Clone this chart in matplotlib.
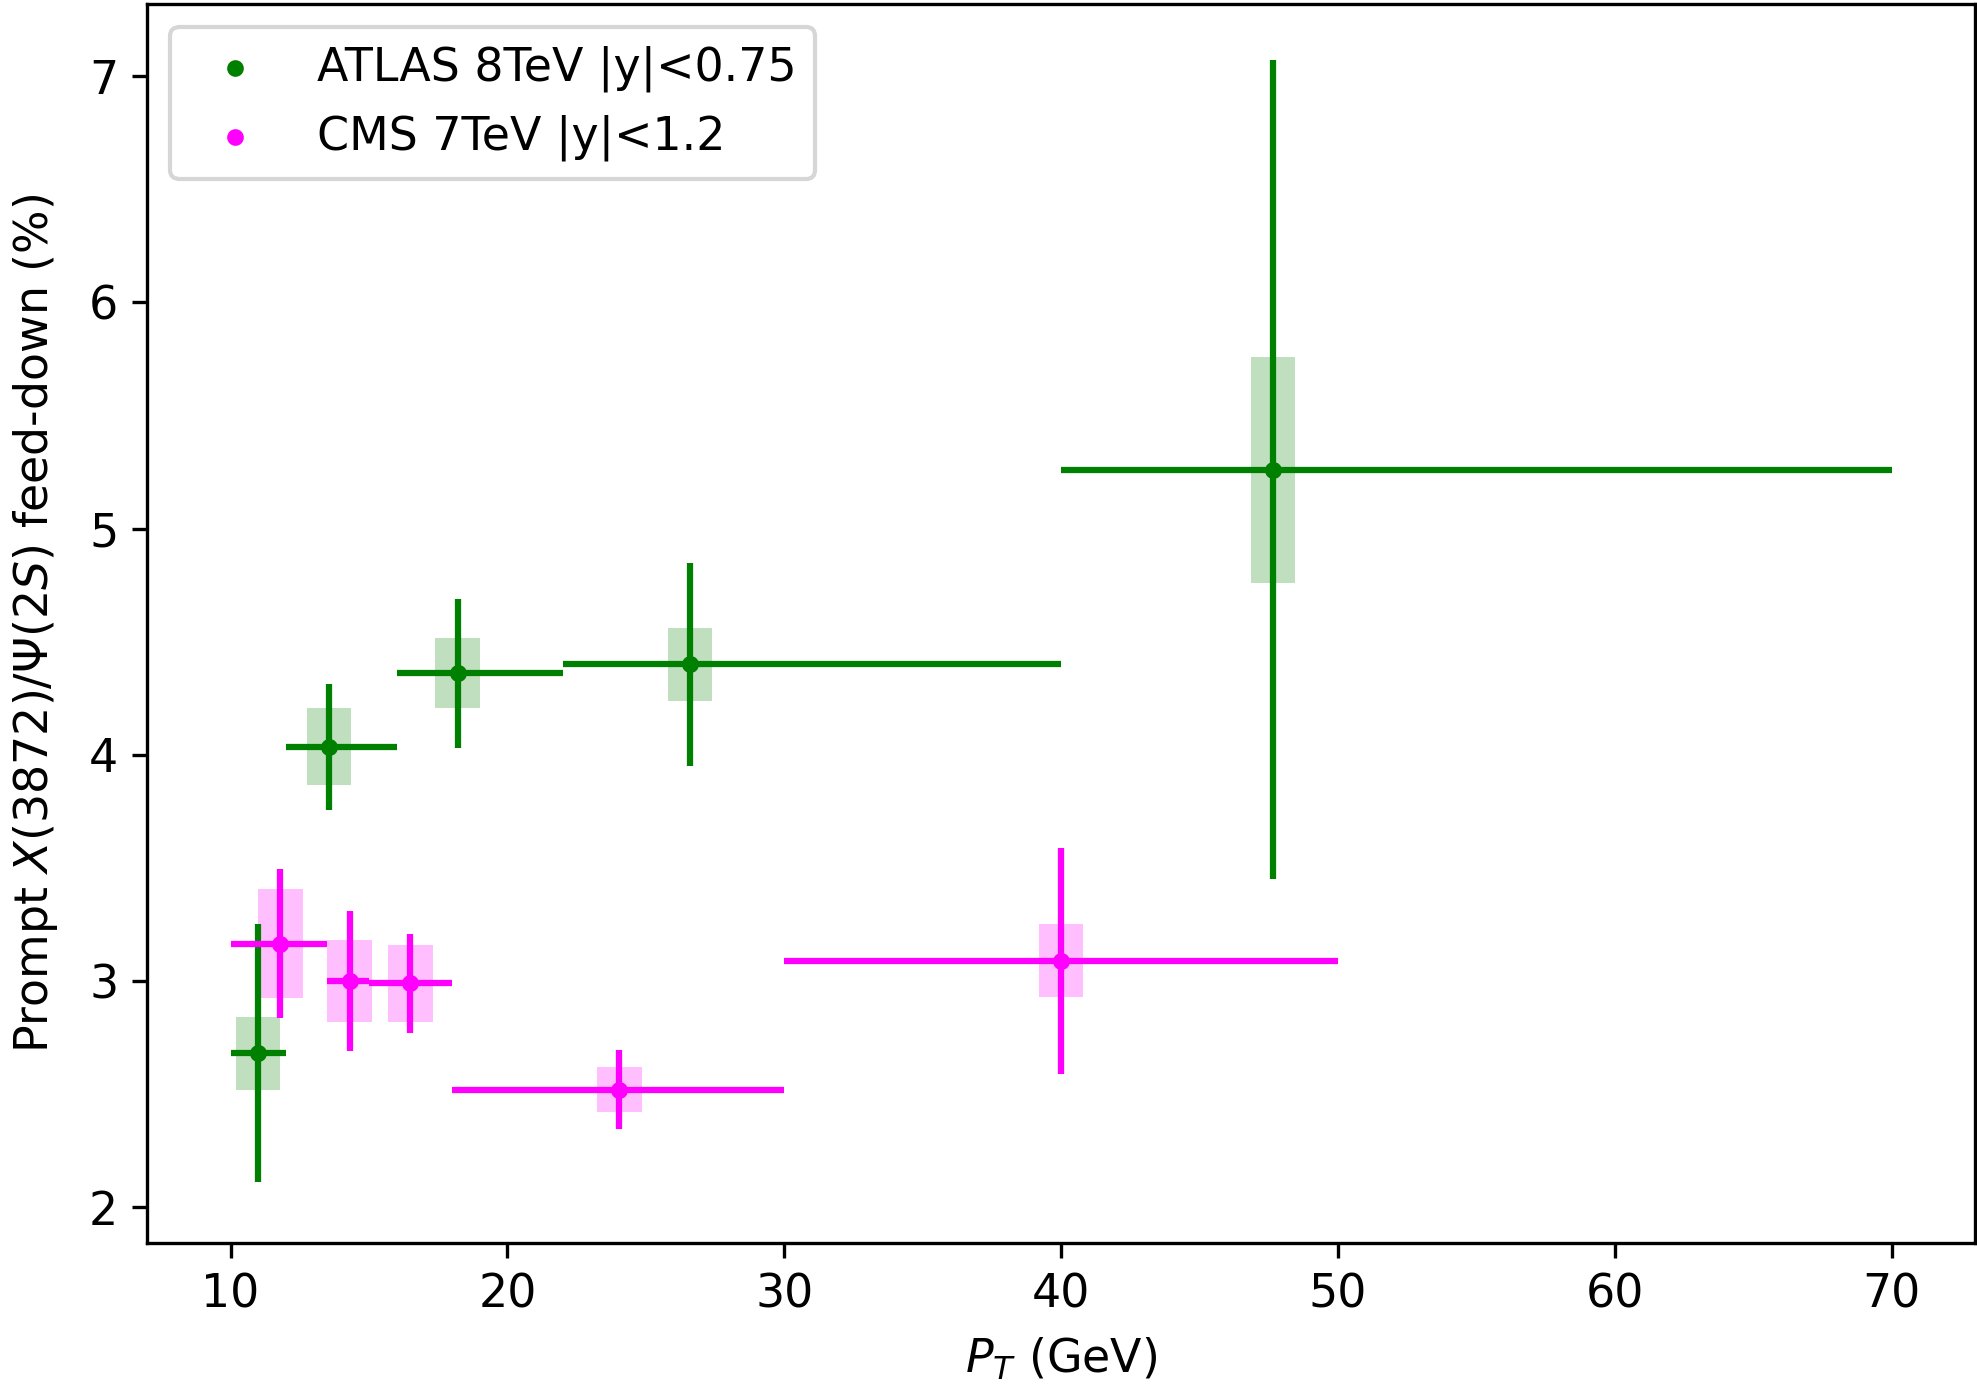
import matplotlib
matplotlib.use("Agg")
import matplotlib.pyplot as plt

# ATLAS 8 TeV |y|<0.75
atlas_pt = [11.0, 13.55, 18.2, 26.6, 47.65]
atlas_pt_lo = [10.0, 12.0, 16.0, 22.0, 40.0]
atlas_pt_hi = [12.0, 16.0, 22.0, 40.0, 70.0]
atlas_val = [2.68, 4.035, 4.36, 4.40, 5.26]
atlas_stat = [0.57, 0.28, 0.33, 0.45, 1.81]
atlas_syst = [0.16, 0.17, 0.155, 0.16, 0.50]

# CMS 7 TeV |y|<1.2
cms_pt = [11.8, 14.3, 16.5, 24.05, 40.0]
cms_pt_lo = [10.0, 13.5, 15.0, 18.0, 30.0]
cms_pt_hi = [13.5, 15.0, 18.0, 30.0, 50.0]
cms_val = [3.165, 3.0, 2.99, 2.52, 3.09]
cms_stat = [0.33, 0.31, 0.22, 0.175, 0.50]
cms_syst = [0.24, 0.18, 0.17, 0.10, 0.16]

box_width = 1.6

plt.rcParams['font.size'] = 11

fig = plt.figure(figsize=(1977 / 300, 1389 / 300), dpi=300)
ax = fig.add_axes([0.0746, 0.1048, 0.9988 - 0.0746, 0.9973 - 0.1048])


def draw_set(ax, pt, lo, hi, val, stat, syst, color, label):
    xerr = [[p - l for p, l in zip(pt, lo)], [h - p for p, h in zip(pt, hi)]]
    ax.errorbar(pt, val, xerr=xerr, yerr=stat, fmt='o', color=color,
                markersize=3, elinewidth=1.5, capsize=0)
    ax.bar(pt, [2 * s for s in syst], bottom=[v - s for v, s in zip(val, syst)],
           width=box_width, color=color, alpha=0.25, linewidth=0)
    ax.scatter(pt, val, s=9, color=color, label=label, zorder=3)


draw_set(ax, atlas_pt, atlas_pt_lo, atlas_pt_hi, atlas_val, atlas_stat, atlas_syst,
         'green', 'ATLAS 8TeV |y|<0.75')
draw_set(ax, cms_pt, cms_pt_lo, cms_pt_hi, cms_val, cms_stat, cms_syst,
         'magenta', 'CMS 7TeV |y|<1.2')

ax.set_xlim(7, 73)
ax.set_ylim(1.84, 7.32)
ax.set_xticks([10, 20, 30, 40, 50, 60, 70])
ax.set_yticks([2, 3, 4, 5, 6, 7])
ax.set_xlabel(r'$P_T$ (GeV)', labelpad=4.5)
ax.set_ylabel(r'Prompt $X(3872)/\Psi(2S)$ feed-down (%)', labelpad=7)
ax.legend(loc='upper left')

fig.savefig('out.png', dpi=300)
